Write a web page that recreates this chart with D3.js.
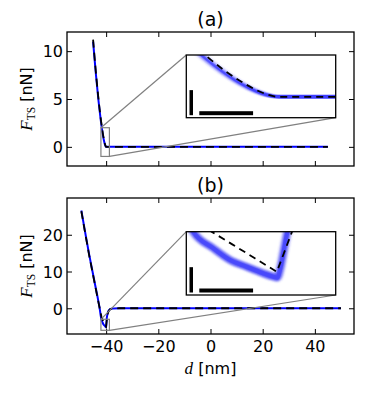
<!DOCTYPE html>
<html>
<head>
<meta charset="utf-8">
<script src="https://cdn.jsdelivr.net/npm/d3@7"></script>
<style>
    html, body { margin: 0; padding: 0; background: #fff; }
    svg { display: block; }
</style>
</head>
<body>
<div class="chart"></div>
<script>
/* axes and ticks */
const xDomain = [-55, 55];
const xTicks = [-40, -20, 0, 20, 40];
const yDomainA = [-2, 12];
const yTicksA = [0, 5, 10];
const yDomainB = [-7, 30];
const yTicksB = [0, 10, 20];

/* zoomed window of the insets */
const zoomD = [-42, -38.75];
const zoomFA = [-1, 2];
const zoomFB = [-6, -3];
const barD = 1.17;   // nm
const barF = 1.2;    // nN

/* (a) fit (dashed) and simulated (blue) force curves */
const dFitA = [-45, -44, -43, -42.5, -42, -41.6, -41.2, -40.8, -40.5, -40.25, -40, 45];
const fFitA = [11.2, 8.0, 5.2, 3.95, 2.83, 2.02, 1.31, 0.72, 0.35, 0.12, 0, 0];
const dSimA = [-45, -44, -43, -42.5, -42, -41.6, -41.2, -40.8, -40.5, -40.3, -40.1, -40, 45];
const fSimA = [11.0, 7.8, 5.0, 3.8, 2.65, 1.86, 1.18, 0.61, 0.28, 0.12, 0.02, 0, 0];

/* (b) */
const dFitB = [-49.5, -48, -46.5, -45, -44, -43, -42.2, -41.8, -41.45, -41, -40.5, -40.03, -39.7, -39.4, -39, -38.5, -38, -37, -35, 50];
const fFitB = [26.4, 20.3, 14.4, 9.0, 5.4, 1.8, -0.9, -2.3, -3.0, -3.6, -4.27, -4.9, -3.0, -1.5, -0.7, -0.3, -0.15, -0.05, 0, 0];
const dSimB = [-49.5, -48, -46.5, -45, -44, -43, -42.4, -42.1, -41.85, -41.41, -41.05, -40.69, -40.33, -40.11, -40.02, -39.95, -39.88, -39.8, -39.6, -39.3, -39, -38.5, -38, -37, -35, 50];
const fSimB = [26.6, 20.5, 14.6, 9.2, 5.6, 2.0, -0.4, -1.9, -3.0, -3.79, -4.34, -4.66, -4.97, -5.13, -5.18, -4.7, -3.9, -3.0, -2.0, -1.1, -0.6, -0.25, -0.1, -0.03, 0, 0];

(function () {
    'use strict';

    const sans = 'DejaVu Sans, sans-serif';
    const serif = 'Liberation Serif, DejaVu Serif, serif';
    const left = 67, right = 354;

    const svg = d3.select('.chart').append('svg')
        .attr('width', 373)
        .attr('height', 393);
    const defs = svg.append('defs');

    const panels = [
        {
            id: 'a', title: '(a)', top: 32, bottom: 166,
            yDomain: yDomainA, yTicks: yTicksA, zoomF: zoomFA,
            fit: d3.zip(dFitA, fFitA), sim: d3.zip(dSimA, fSimA),
            fitCurve: d3.curveMonotoneX, showX: false,
            inset: { left: 186.3, right: 335.7, top: 55, bottom: 117.7 },
            band: { width: 4, blur: '2.8 0.5', color: '#3535ff', opacity: 0.95 }
        },
        {
            id: 'b', title: '(b)', top: 198, bottom: 334,
            yDomain: yDomainB, yTicks: yTicksB, zoomF: zoomFB,
            fit: d3.zip(dFitB, fFitB), sim: d3.zip(dSimB, fSimB),
            fitCurve: d3.curveLinear, showX: true,
            inset: { left: 186.3, right: 335.7, top: 231.7, bottom: 295 },
            band: { width: 7.5, blur: '1.8 1.3', color: '#4646f5', opacity: 0.9 }
        }
    ];

    panels.forEach(function (p) {
        const x = d3.scaleLinear().domain(xDomain).range([left, right]);
        const y = d3.scaleLinear().domain(p.yDomain).range([p.bottom, p.top]);
        const g = svg.append('g').attr('class', 'panel-' + p.id);

        defs.append('clipPath').attr('id', 'clip-' + p.id)
            .append('rect').attr('x', left).attr('y', p.top)
            .attr('width', right - left).attr('height', p.bottom - p.top);

        /* main curves */
        const plot = g.append('g').attr('clip-path', 'url(#clip-' + p.id + ')');
        const simLine = d3.line().x(d => x(d[0])).y(d => y(d[1])).curve(d3.curveMonotoneX);
        const fitLine = d3.line().x(d => x(d[0])).y(d => y(d[1])).curve(p.fitCurve);
        plot.append('path').attr('d', simLine(p.sim))
            .attr('fill', 'none').attr('stroke', '#0000ff').attr('stroke-width', 2);
        plot.append('path').attr('d', fitLine(p.fit))
            .attr('fill', 'none').attr('stroke', '#000').attr('stroke-width', 1.8)
            .attr('stroke-dasharray', '8,5');

        /* axes, ticks pointing inwards on all four sides */
        const ax = g.append('g').style('font-family', sans).style('font-size', '16px');
        const bottomAxis = d3.axisBottom(x).tickValues(xTicks).tickSize(-5).tickSizeOuter(0).tickPadding(6.5);
        if (!p.showX) bottomAxis.tickFormat('');
        ax.append('g').attr('transform', 'translate(0,' + p.bottom + ')').call(bottomAxis);
        ax.append('g').attr('transform', 'translate(0,' + p.top + ')')
            .call(d3.axisTop(x).tickValues(xTicks).tickSize(-5).tickSizeOuter(0).tickFormat(''));
        ax.append('g').attr('transform', 'translate(' + left + ',0)')
            .call(d3.axisLeft(y).tickValues(p.yTicks).tickSize(-5).tickSizeOuter(0).tickPadding(4))
            .selectAll('text').attr('dy', '0.36em');
        ax.append('g').attr('transform', 'translate(' + right + ',0)')
            .call(d3.axisRight(y).tickValues(p.yTicks).tickSize(-5).tickSizeOuter(0).tickFormat(''));
        ax.selectAll('.domain').remove();
        ax.selectAll('.tick line').attr('stroke', '#000').attr('stroke-width', 1);
        ax.selectAll('.tick text').attr('fill', '#000').style('font-family', sans).style('font-size', '16px');

        g.append('rect').attr('x', left).attr('y', p.top)
            .attr('width', right - left).attr('height', p.bottom - p.top)
            .attr('fill', 'none').attr('stroke', '#000').attr('stroke-width', 1.3);

        /* title */
        g.append('text').text(p.title)
            .attr('x', (left + right) / 2).attr('y', p.top - 6.5)
            .attr('text-anchor', 'middle')
            .style('font-family', sans).style('font-size', '19px');

        /* y label */
        const yl = g.append('text')
            .attr('transform', 'translate(32,' + (p.top + p.bottom) / 2 + ') rotate(-90)')
            .attr('text-anchor', 'middle')
            .style('font-size', '16px');
        yl.append('tspan').text('F').style('font-family', serif).style('font-style', 'italic').style('font-size', '17px');
        yl.append('tspan').text('TS').attr('dy', 3).style('font-family', serif).style('font-size', '11.5px');
        yl.append('tspan').text('\u00a0[nN]').attr('dy', -3).style('font-family', sans);

        if (p.showX) {
            const xl = g.append('text')
                .attr('x', (left + right) / 2).attr('y', 374)
                .attr('text-anchor', 'middle')
                .style('font-size', '16px');
            xl.append('tspan').text('d').style('font-family', serif).style('font-style', 'italic').style('font-size', '17px');
            xl.append('tspan').text('\u00a0[nm]').style('font-family', sans);
        }

        /* zoom marker and connectors */
        const zx0 = x(zoomD[0]), zx1 = x(zoomD[1]);
        const zy0 = y(p.zoomF[1]), zy1 = y(p.zoomF[0]);
        const ins = p.inset;
        g.append('rect').attr('x', zx0).attr('y', zy0)
            .attr('width', zx1 - zx0).attr('height', zy1 - zy0)
            .attr('fill', 'none').attr('stroke', '#808080').attr('stroke-width', 1.2);
        g.append('line').attr('x1', zx0).attr('y1', zy0).attr('x2', ins.left).attr('y2', ins.top)
            .attr('stroke', '#808080').attr('stroke-width', 1.2);
        g.append('line').attr('x1', zx1).attr('y1', zy1).attr('x2', ins.right).attr('y2', ins.bottom)
            .attr('stroke', '#808080').attr('stroke-width', 1.2);

        /* inset */
        const ix = d3.scaleLinear().domain(zoomD).range([ins.left, ins.right]);
        const iy = d3.scaleLinear().domain(p.zoomF).range([ins.bottom, ins.top]);
        defs.append('clipPath').attr('id', 'iclip-' + p.id)
            .append('rect').attr('x', ins.left).attr('y', ins.top)
            .attr('width', ins.right - ins.left).attr('height', ins.bottom - ins.top);
        defs.append('filter').attr('id', 'spread-' + p.id)
            .attr('filterUnits', 'userSpaceOnUse')
            .attr('x', 0).attr('y', 0).attr('width', 373).attr('height', 393)
            .append('feGaussianBlur').attr('stdDeviation', p.band.blur);

        const inset = g.append('g').attr('class', 'inset');
        inset.append('rect').attr('x', ins.left).attr('y', ins.top)
            .attr('width', ins.right - ins.left).attr('height', ins.bottom - ins.top)
            .attr('fill', '#fff');
        const ip = inset.append('g').attr('clip-path', 'url(#iclip-' + p.id + ')');
        const iSim = d3.line().x(d => ix(d[0])).y(d => iy(d[1])).curve(d3.curveMonotoneX);
        const iFit = d3.line().x(d => ix(d[0])).y(d => iy(d[1])).curve(p.fitCurve);
        ip.append('g').attr('filter', 'url(#spread-' + p.id + ')')
            .append('path').attr('d', iSim(p.sim))
            .attr('fill', 'none').attr('stroke', p.band.color)
            .attr('stroke-width', p.band.width).attr('opacity', p.band.opacity);
        ip.append('path').attr('d', iSim(p.sim))
            .attr('fill', 'none').attr('stroke', '#3c3cff')
            .attr('stroke-width', p.band.width * 0.55).attr('opacity', 0.55);
        ip.append('path').attr('d', iFit(p.fit))
            .attr('fill', 'none').attr('stroke', '#000').attr('stroke-width', 1.8)
            .attr('stroke-dasharray', '7,5');

        /* scale bars */
        const bw = ix(zoomD[0] + barD) - ix(zoomD[0]);
        const bh = iy(p.zoomF[0]) - iy(p.zoomF[0] + barF);
        inset.append('rect').attr('x', ins.left + 3.2).attr('y', ins.bottom - 2.5 - bh)
            .attr('width', 3.5).attr('height', bh).attr('fill', '#000');
        inset.append('rect').attr('x', ins.left + 13).attr('y', ins.bottom - 6.5)
            .attr('width', bw).attr('height', 4).attr('fill', '#000');

        inset.append('rect').attr('x', ins.left).attr('y', ins.top)
            .attr('width', ins.right - ins.left).attr('height', ins.bottom - ins.top)
            .attr('fill', 'none').attr('stroke', '#000').attr('stroke-width', 1.3);
    });
}());
</script>
</body>
</html>
